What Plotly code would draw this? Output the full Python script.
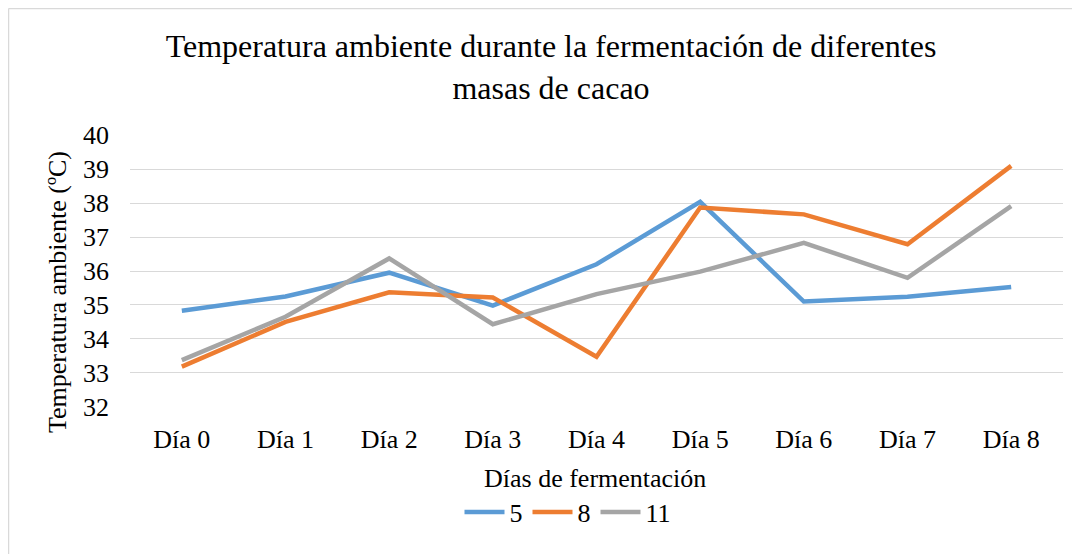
import plotly.graph_objects as go

dias = ["Día 0", "Día 1", "Día 2", "Día 3", "Día 4", "Día 5", "Día 6", "Día 7", "Día 8"]
masa_5 = [34.83, 35.25, 35.95, 34.98, 36.2, 38.04, 35.1, 35.24, 35.53]
masa_8 = [33.18, 34.5, 35.37, 35.22, 33.47, 37.87, 37.67, 36.79, 39.1]
masa_11 = [33.37, 34.65, 36.37, 34.43, 35.32, 35.98, 36.83, 35.8, 37.91]

series = [("5", masa_5, "#5B9BD5"), ("8", masa_8, "#ED7D31"), ("11", masa_11, "#A5A5A5")]

FONT = "Liberation Serif, Times New Roman, serif"

# the page body adds 8px of margin, so shift everything up/left by that
OFF = 8

# plot area in (reference) pixels
L, R, T, B = 130 - OFF, 1063 - OFF, 135 - OFF, 407 - OFF
W, H = R - L, B - T


def px_x(p):
    return (p - OFF - L) / W


def px_y(p):
    return (B - (p - OFF)) / H


fig = go.Figure()
for name, vals, color in series:
    fig.add_trace(go.Scatter(
        x=dias, y=vals, name=name, mode="lines",
        line=dict(color=color, width=4.5),
    ))

fig.update_layout(
    width=1080, height=554,
    paper_bgcolor="white", plot_bgcolor="white",
    margin=dict(l=L, r=1080 - R, t=T, b=554 - B),
    font=dict(family=FONT, size=26, color="black"),
    title=dict(
        text="Temperatura ambiente durante la fermentación de diferentes<br>masas de cacao",
        font=dict(family=FONT, size=32, color="black"),
        x=(551 - OFF) / 1080, xanchor="center", xref="container",
        y=1 - 49 / 554, yanchor="middle", yref="container",
    ),
    showlegend=True,
    legend=dict(
        orientation="h", x=px_x(568), xanchor="center",
        y=px_y(512), yanchor="middle",
        font=dict(family=FONT, size=26), itemwidth=40,
        traceorder="normal",
    ),
)

fig.update_xaxes(
    range=[-0.5, 8.5], showgrid=False, showline=False, zeroline=False,
    ticks="", ticklabelstandoff=14, tickfont=dict(size=26),
)
fig.update_yaxes(
    range=[31.99, 40.01], tickvals=list(range(32, 41)),
    showgrid=True, gridcolor="#D9D9D9", gridwidth=1.3,
    showline=False, zeroline=False, ticks="", ticklabelstandoff=20,
    tickfont=dict(size=26),
)

# axis titles
fig.add_annotation(
    text="Días de fermentación", xref="paper", yref="paper",
    x=px_x(595), y=px_y(478), xanchor="center", yanchor="middle",
    showarrow=False, font=dict(family=FONT, size=26),
)
fig.add_annotation(
    text="Temperatura ambiente (ºC)", xref="paper", yref="paper",
    x=px_x(57), y=px_y(292), xanchor="center", yanchor="middle",
    textangle=-90, showarrow=False, font=dict(family=FONT, size=26),
)

# chart frame (only top and left edges fall inside the picture)
fig.add_shape(type="line", xref="paper", yref="paper",
              x0=px_x(8.5), x1=px_x(1100), y0=px_y(8.5), y1=px_y(8.5),
              line=dict(color="#D9D9D9", width=1.5))
fig.add_shape(type="line", xref="paper", yref="paper",
              x0=px_x(8.5), x1=px_x(8.5), y0=px_y(8.5), y1=px_y(580),
              line=dict(color="#D9D9D9", width=1.5))

fig.write_html("out.html")
